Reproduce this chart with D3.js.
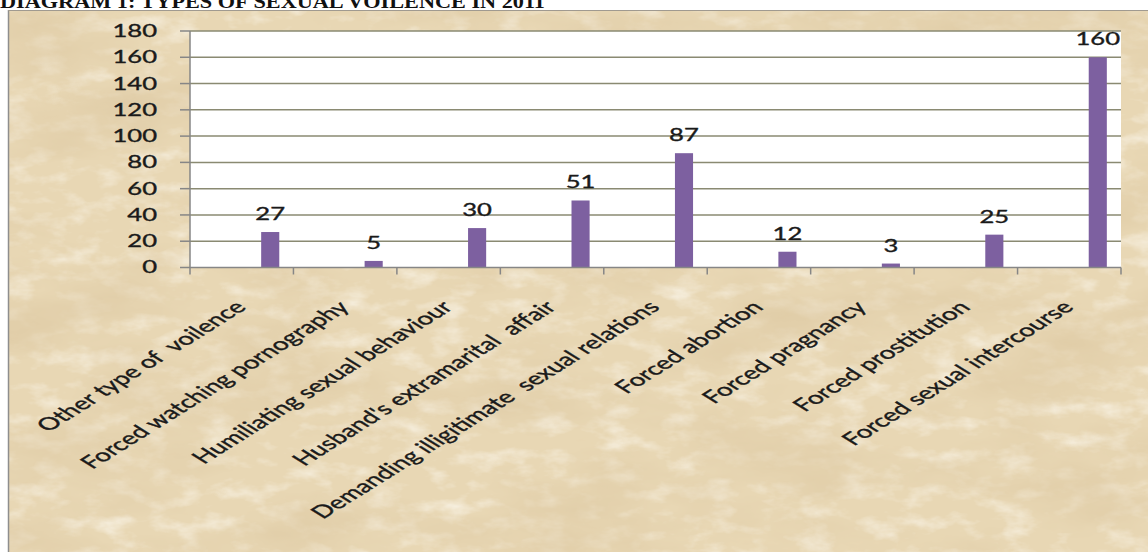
<!DOCTYPE html>
<html>
<head>
<meta charset="utf-8">
<script src="https://cdn.jsdelivr.net/npm/d3@7"></script>
<style>
  html, body { margin: 0; padding: 0; background: #fff; }
  svg { display: block; }
</style>
</head>
<body>
<div id="root"></div>
<script>
// Data
const title = "DIAGRAM 1: TYPES OF SEXUAL VOILENCE IN 2011";
const categories = [
  "Other type of  voilence",
  "Forced watching pornography",
  "Humiliating sexual behaviour",
  "Husband's extramarital  affair",
  "Demanding illigitimate  sexual relations",
  "Forced abortion",
  "Forced pragnancy",
  "Forced prostitution",
  "Forced sexual intercourse"
];
const counts = [27, 5, 30, 51, 87, 12, 3, 25, 160];
const yTicks = [0, 20, 40, 60, 80, 100, 120, 140, 160, 180];

const w = 1148;
const h = 552;
const plot = { left: 190, right: 1121, top: 31, bottom: 267.5 };
const stretch = 1.6; // the source picture is squashed sideways, so the text looks wide

const svg = d3.select("#root")
  .append("svg")
  .attr("width", w)
  .attr("height", h);

// parchment texture
const defs = svg.append("defs");
const f = defs.append("filter").attr("id", "paper")
  .attr("x", 0).attr("y", 0).attr("width", 1).attr("height", 1);
f.append("feTurbulence")
  .attr("type", "fractalNoise")
  .attr("baseFrequency", "0.006 0.014")
  .attr("numOctaves", 6)
  .attr("seed", 11)
  .attr("result", "noise");
f.append("feColorMatrix")
  .attr("in", "noise")
  .attr("type", "matrix")
  .attr("values", "0 0 0 0 0.74  0 0 0 0 0.60  0 0 0 0 0.38  1.9 0 0 0 -0.8");

const f2 = defs.append("filter").attr("id", "speck")
  .attr("x", 0).attr("y", 0).attr("width", 1).attr("height", 1);
f2.append("feTurbulence")
  .attr("type", "fractalNoise")
  .attr("baseFrequency", "0.03 0.06")
  .attr("numOctaves", 4)
  .attr("seed", 4)
  .attr("result", "noise");
f2.append("feColorMatrix")
  .attr("in", "noise")
  .attr("type", "matrix")
  .attr("values", "0 0 0 0 0.96  0 0 0 0 0.92  0 0 0 0 0.83  0 0 1.6 0 -0.75");

svg.append("rect")
  .attr("x", 8).attr("y", 10)
  .attr("width", w - 8).attr("height", h - 10)
  .attr("fill", "#e8d7b4");
svg.append("rect")
  .attr("x", 8).attr("y", 10)
  .attr("width", w - 8).attr("height", h - 10)
  .attr("filter", "url(#speck)");
svg.append("rect")
  .attr("x", 8).attr("y", 10)
  .attr("width", w - 8).attr("height", h - 10)
  .attr("filter", "url(#paper)");

// page frame lines
svg.append("line")
  .attr("x1", 8.5).attr("x2", 8.5).attr("y1", 10).attr("y2", h)
  .attr("stroke", "#8e8e8e").attr("stroke-width", 1.5);
svg.append("line")
  .attr("x1", 8).attr("x2", w).attr("y1", 10.5).attr("y2", 10.5)
  .attr("stroke", "#a09a90").attr("stroke-width", 1);

// title, only its lower part is visible
svg.append("text")
  .attr("x", 0)
  .attr("y", 8)
  .attr("textLength", 545)
  .attr("lengthAdjust", "spacingAndGlyphs")
  .style("font-family", "'Liberation Serif', 'Times New Roman', serif")
  .style("font-weight", "bold")
  .style("font-size", "19px")
  .style("fill", "#111")
  .text(title);

// scales
const x = d3.scaleBand()
  .domain(categories)
  .range([plot.left, plot.right])
  .padding(0);

const y = d3.scaleLinear()
  .domain([0, 180])
  .range([plot.bottom, plot.top]);

// plot area
svg.append("rect")
  .attr("x", plot.left).attr("y", plot.top)
  .attr("width", plot.right - plot.left)
  .attr("height", plot.bottom - plot.top)
  .attr("fill", "#fff");

// gridlines
svg.append("g")
  .selectAll("line")
  .data(yTicks.filter(t => t > 0))
  .enter()
  .append("line")
  .attr("x1", plot.left)
  .attr("x2", plot.right)
  .attr("y1", d => y(d))
  .attr("y2", d => y(d))
  .attr("stroke", "#8a8a72")
  .attr("stroke-width", 1.5);

// bars (second of two slots in each category, as in the source)
const bw = x.bandwidth();
svg.append("g")
  .selectAll("rect")
  .data(counts)
  .enter()
  .append("rect")
  .attr("x", (d, i) => x(categories[i]) + bw * 0.688)
  .attr("width", bw * 0.175)
  .attr("y", d => y(d))
  .attr("height", d => y(0) - y(d))
  .attr("fill", "#7d60a0");

// data labels
const fontFam = "Lato, 'Open Sans', sans-serif";
const textStyle = sel => sel
  .style("font-family", fontFam)
  .style("font-size", "16.5px")
  .style("fill", "#1a1a1a")
  .style("stroke", "#1a1a1a")
  .style("stroke-width", 0.35);

svg.append("g")
  .selectAll("text")
  .data(counts)
  .enter()
  .append("text")
  .attr("transform", (d, i) =>
    `translate(${x(categories[i]) + bw * 0.775},${y(d) - 12}) scale(${stretch * 0.97},1)`)
  .attr("text-anchor", "middle")
  .call(textStyle)
  .text(d => d);

// y axis
const yAxis = svg.append("g");
yAxis.append("line")
  .attr("x1", plot.left).attr("x2", plot.left)
  .attr("y1", plot.top).attr("y2", plot.bottom)
  .attr("stroke", "#868686").attr("stroke-width", 1.5);
yAxis.selectAll(".tick")
  .data(yTicks)
  .enter()
  .append("line")
  .attr("x1", plot.left - 10).attr("x2", plot.left)
  .attr("y1", d => y(d)).attr("y2", d => y(d))
  .attr("stroke", "#868686").attr("stroke-width", 1.5);
yAxis.selectAll("text")
  .data(yTicks)
  .enter()
  .append("text")
  .attr("transform", d => `translate(157,${y(d)}) scale(${stretch * 0.97},1)`)
  .attr("text-anchor", "end")
  .attr("dy", "0.36em")
  .call(textStyle)
  .text(d => d);

// x axis
const xAxis = svg.append("g");
xAxis.append("line")
  .attr("x1", plot.left).attr("x2", plot.right)
  .attr("y1", plot.bottom).attr("y2", plot.bottom)
  .attr("stroke", "#868686").attr("stroke-width", 1.5);
xAxis.selectAll("line.tick")
  .data(categories.concat(["end"]))
  .enter()
  .append("line")
  .attr("class", "tick")
  .attr("x1", (d, i) => plot.left + i * bw)
  .attr("x2", (d, i) => plot.left + i * bw)
  .attr("y1", plot.bottom).attr("y2", plot.bottom + 7)
  .attr("stroke", "#868686").attr("stroke-width", 1.5);

xAxis.selectAll("text")
  .data(categories)
  .enter()
  .append("text")
  .attr("transform", d =>
    `translate(${x(d) + bw / 2 - 10},${plot.bottom + 31}) scale(${stretch},1) rotate(-45)`)
  .attr("text-anchor", "end")
  .attr("dominant-baseline", "hanging")
  .call(textStyle)
  .style("font-size", "17.5px")
  .style("white-space", "pre")
  .text(d => d);
</script>
</body>
</html>
